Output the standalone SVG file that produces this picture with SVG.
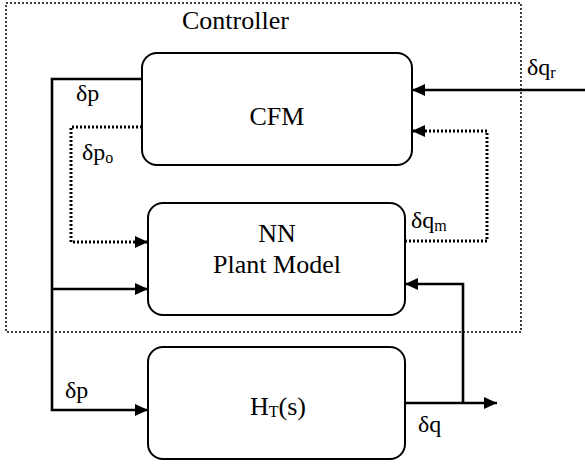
<svg xmlns="http://www.w3.org/2000/svg" width="585" height="464" viewBox="0 0 585 464">
<style>
text{font-family:"Liberation Serif","Times New Roman",serif;fill:#000}
.lbl{font-size:26px}
.sig{font-size:24px}
.sub{font-size:16px}
.box{fill:#fff;stroke:#000;stroke-width:2}
.solid{fill:none;stroke:#000;stroke-width:2.6}
.dot{fill:none;stroke:#000;stroke-width:3;stroke-dasharray:2 2}
.ctrl{fill:none;stroke:#000;stroke-width:1.5;stroke-dasharray:2 2}
</style>
<defs>
<marker id="ah" markerUnits="userSpaceOnUse" markerWidth="14" markerHeight="12" refX="13" refY="6" orient="auto">
<path d="M0,0 L13,6 L0,12 Z" fill="#000"/>
</marker>
</defs>
<rect width="585" height="464" fill="#fff"/>
<g id="controller">
<rect class="ctrl" x="6" y="3" width="515" height="329"/>
<text class="lbl" x="182" y="29">Controller</text>
</g>
<g id="cfm">
<rect class="box" x="142" y="53" width="270" height="112" rx="15"/>
<text class="lbl" x="277" y="125" text-anchor="middle">CFM</text>
</g>
<g id="nn">
<rect class="box" x="148" y="203" width="257" height="112" rx="15"/>
<text class="lbl" x="277" y="242" text-anchor="middle">NN</text>
<text class="lbl" x="277" y="273" text-anchor="middle">Plant Model</text>
</g>
<g id="ht">
<rect class="box" x="148" y="347" width="257" height="112" rx="15"/>
<text class="lbl" x="250" y="415">H<tspan class="sub" dy="2">T</tspan><tspan dy="-2">(s)</tspan></text>
</g>
<g id="connectors">
<path class="solid" d="M142,79 H52 V410 H148" marker-end="url(#ah)"/>
<path class="solid" d="M52,289 H148" marker-end="url(#ah)"/>
<path class="dot" d="M142,127 H71 V242 H148" marker-end="url(#ah)"/>
<path class="solid" d="M585,90 H412" marker-end="url(#ah)"/>
<path class="dot" d="M405,241 H487 V131 H412" marker-end="url(#ah)"/>
<path class="solid" d="M405,403 H497" marker-end="url(#ah)"/>
<path class="solid" d="M463,403 V284 H405" marker-end="url(#ah)"/>
</g>
<g id="labels">
<text class="sig" x="76" y="101">δp</text>
<text class="sig" x="82" y="160">δp<tspan class="sub" dy="3">o</tspan></text>
<text class="sig" x="527" y="75">δq<tspan class="sub" dy="3">r</tspan></text>
<text class="sig" x="411" y="228">δq<tspan class="sub" dy="3">m</tspan></text>
<text class="sig" x="65" y="398">δp</text>
<text class="sig" x="418" y="432">δq</text>
</g>
</svg>
